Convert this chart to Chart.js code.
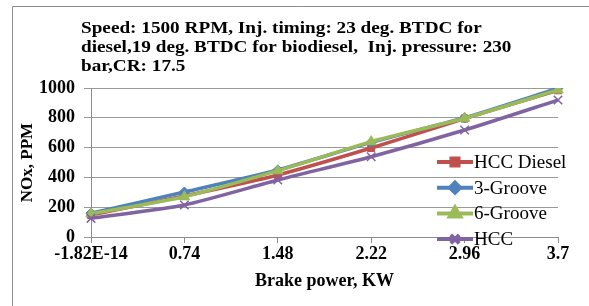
<!DOCTYPE html>
<html>
<head>
<meta charset="utf-8">
<script src="https://cdn.jsdelivr.net/npm/chart.js@4/dist/chart.umd.min.js"></script>
<style>
  html, body { margin: 0; padding: 0; background: #fff; }
  #wrap { width: 589px; height: 306px; }
</style>
</head>
<body>
<div id="wrap"><canvas id="noxChart" width="589" height="306"></canvas></div>
<script>
const powerLabels = ['-1.82E-14', '0.74', '1.48', '2.22', '2.96', '3.7'];
const hccDiesel = [148, 275, 416, 597, 795, 985];
const groove3 = [160, 302, 450, 635, 800, 998];
const groove6 = [155, 270, 445, 640, 797, 987];
const hcc = [125, 215, 383, 539, 718, 919];
const yTicks = [0, 200, 400, 600, 800, 1000];

const titleLines = [
    'Speed: 1500 RPM, Inj. timing: 23 deg. BTDC for',
    'diesel,19 deg. BTDC for biodiesel,  Inj. pressure: 230',
    'bar,CR: 17.5'
];

const serif = '"Liberation Serif", "Times New Roman", serif';

// frame + title, drawn by hand so they sit where the original has them
const framePlugin = {
    id: 'frame',
    beforeDraw(chart) {
        const c = chart.ctx;
        c.save();
        c.fillStyle = '#fff';
        c.fillRect(0, 0, chart.width, chart.height);
        c.strokeStyle = '#8c8c8c';
        c.lineWidth = 1;
        c.beginPath();
        c.moveTo(12.5, 306);
        c.lineTo(12.5, 6.5);
        c.lineTo(589, 6.5);
        c.stroke();
        // title text in the picture is a bit wider than plain Times, so stretch it
        c.fillStyle = '#000';
        c.font = 'bold 17px ' + serif;
        c.textBaseline = 'alphabetic';
        c.translate(81, 0);
        c.scale(1.13, 1);
        titleLines.forEach((t, i) => c.fillText(t, 0, 33 + i * 19));
        c.restore();
    }
};

// legend sits inside the plot, bottom right, like the Excel one
const legendPlugin = {
    id: 'insideLegend',
    afterDatasetsDraw(chart) {
        const c = chart.ctx;
        c.save();
        c.font = '19px ' + serif;
        c.textBaseline = 'middle';
        chart.data.datasets.forEach((ds, i) => {
            const y = 162 + i * 25.7;
            c.strokeStyle = ds.borderColor;
            c.lineWidth = 4;
            c.beginPath();
            c.moveTo(437, y);
            c.lineTo(473, y);
            c.stroke();
            c.fillStyle = ds.backgroundColor;
            c.strokeStyle = ds.borderColor;
            Chart.helpers.drawPoint(c, {
                pointStyle: ds.pointStyle,
                radius: ds.pointRadius,
                borderWidth: ds.pointBorderWidth || 1
            }, 455, y);
            c.fillStyle = '#000';
            c.fillText(ds.label, 474, y + 1);
        });
        c.restore();
    }
};

function series(label, data, color, style, radius, order) {
    return {
        label: label,
        data: data,
        borderColor: color,
        backgroundColor: color,
        pointBackgroundColor: color,
        pointBorderColor: color,
        pointStyle: style,
        pointRadius: radius,
        pointBorderWidth: style === 'crossRot' ? 1.5 : 1,
        borderWidth: 3.5,
        tension: 0.2,
        order: order
    };
}

const ctx = document.querySelector('#noxChart').getContext('2d');
const noxChart = new Chart(ctx, {
    type: 'line',
    data: {
        labels: powerLabels,
        datasets: [
            series('HCC Diesel', hccDiesel, '#C0504D', 'rect', 5, 4),
            series('3-Groove', groove3, '#4F81BD', 'rectRot', 5, 3),
            series('6-Groove', groove6, '#9BBB59', 'triangle', 6, 2),
            series('HCC', hcc, '#8064A2', 'crossRot', 6, 1)
        ]
    },
    plugins: [framePlugin, legendPlugin],
    options: {
        responsive: false,
        animation: false,
        layout: { padding: { top: 88, left: 14, right: 31, bottom: 0 } },
        scales: {
            x: {
                type: 'category',
                offset: false,
                afterFit(scale) { scale.height = 69; },
                grid: { drawOnChartArea: false, drawTicks: true, tickLength: 6, color: '#8c8c8c' },
                border: { color: '#8c8c8c', width: 1 },
                ticks: {
                    color: '#000',
                    font: { family: serif, size: 18, weight: 'bold' },
                    padding: 1,
                    maxRotation: 0,
                    autoSkip: false
                },
                title: {
                    display: true,
                    text: 'Brake power, KW',
                    color: '#000',
                    font: { family: serif, size: 18, weight: 'bold' },
                    padding: { top: 0, bottom: 14 }
                }
            },
            y: {
                min: 0,
                max: 1000,
                afterFit(scale) { scale.width = 77; },
                afterBuildTicks(scale) { scale.ticks = yTicks.map(v => ({ value: v })); },
                grid: { color: '#9a9a9a', tickLength: 7 },
                border: { color: '#8c8c8c', width: 1 },
                ticks: {
                    color: '#000',
                    font: { family: serif, size: 18, weight: 'bold' },
                    padding: 9,
                    callback: v => String(v)
                },
                title: {
                    display: true,
                    text: 'NOx, PPM',
                    color: '#000',
                    font: { family: serif, size: 17, weight: 'bold' },
                    padding: { top: 3, bottom: 0 }
                }
            }
        },
        plugins: {
            legend: { display: false },
            tooltip: { enabled: false }
        }
    }
});
</script>
</body>
</html>
